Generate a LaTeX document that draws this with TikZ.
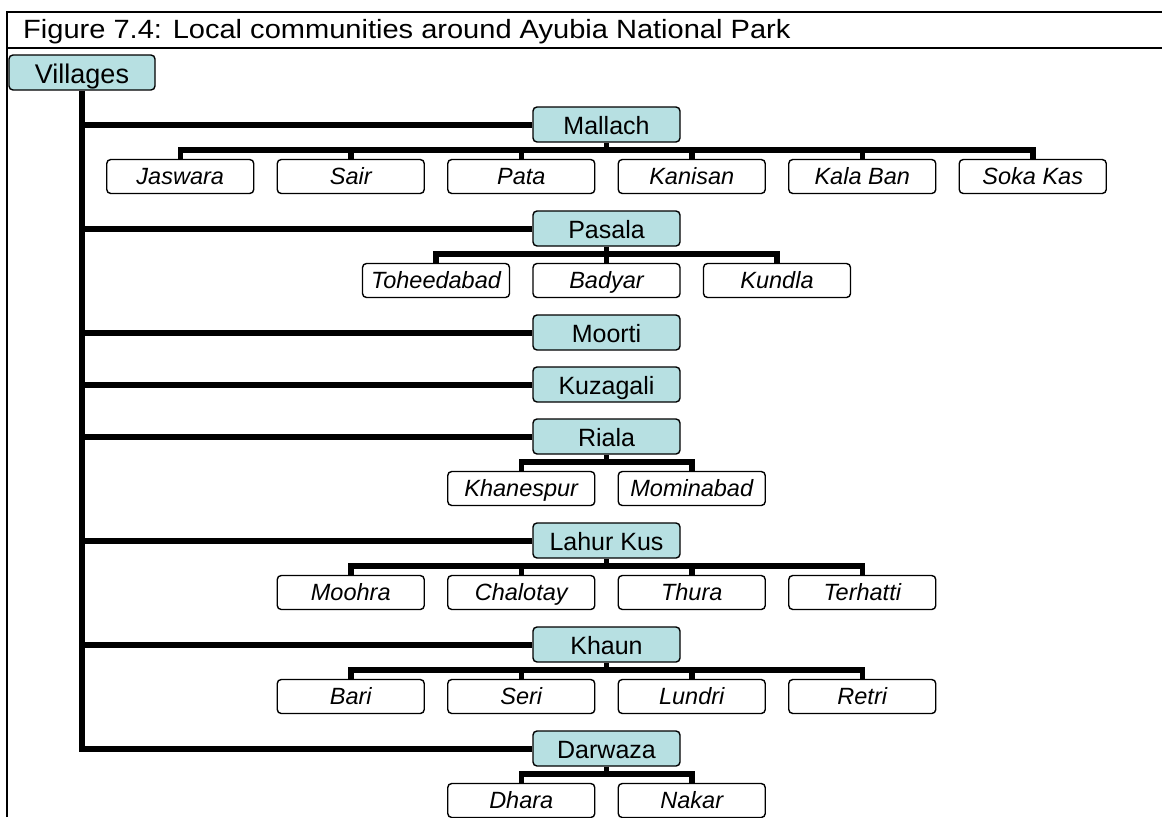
\documentclass[tikz,border=0pt]{standalone}
\usepackage{fontspec}
\setmainfont{Liberation Sans}
\newfontfamily\captionfont[FakeStretch=1.1]{Liberation Sans}
\usetikzlibrary{calc}
\definecolor{villfill}{RGB}{183,224,226}
\begin{document}
\begin{tikzpicture}[x=1pt,y=-1pt,
  frame/.style={line width=1.6pt},
  vbox/.style={draw, line width=1.4pt, rounded corners=4pt, fill=villfill,
    minimum width=147pt, minimum height=35pt, inner sep=0pt,
    text height=19pt, text depth=0pt, font=\fontsize{25}{25}\selectfont},
  cbox/.style={draw, line width=1.4pt, rounded corners=4pt, fill=white,
    minimum width=147pt, minimum height=34pt, inner sep=0pt,
    text height=16.5pt, text depth=0pt, font=\fontsize{23.5}{23.5}\selectfont\itshape},
  trunk/.style={line width=6pt, line join=miter},
  bus/.style={line width=5.5pt, line join=miter}]
\useasboundingbox (0,0) rectangle (1162,817);

% frame and caption
\draw[frame] (7,817) -- (7,12) -- (1162,12);
\draw[frame] (7,48) -- (1162,48);
\node[anchor=base west, inner sep=0pt, font=\captionfont\fontsize{26.4}{26.4}\selectfont] (title) at (23,38.5)
  {Figure 7.4: Local communities around Ayubia National Park};

% root
\node[vbox, minimum width=146pt, text height=21pt, font=\fontsize{27}{27}\selectfont] (vil) at (82,72.5) {Villages};

% village groups
\node[vbox] (mal) at (606.5,124.5) {Mallach};
\node[vbox] (pas) at (606.5,228.5) {Pasala};
\node[vbox] (moo) at (606.5,332.5) {Moorti};
\node[vbox] (kuz) at (606.5,384.5) {Kuzagali};
\node[vbox] (ria) at (606.5,436.5) {Riala};
\node[vbox] (lah) at (606.5,540.5) {Lahur Kus};
\node[vbox] (kha) at (606.5,644.5) {Khaun};
\node[vbox] (dar) at (606.5,748.5) {Darwaza};

% Mallach
\node[cbox] (m1) at (180.25,176.5) {Jaswara};
\node[cbox] (m2) at (350.75,176.5) {Sair};
\node[cbox] (m3) at (521.25,176.5) {Pata};
\node[cbox] (m4) at (691.75,176.5) {Kanisan};
\node[cbox] (m5) at (862.25,176.5) {Kala Ban};
\node[cbox] (m6) at (1032.75,176.5) {Soka Kas};
% Pasala
\node[cbox] (p1) at (436,280.5) {Toheedabad};
\node[cbox] (p2) at (606.5,280.5) {Badyar};
\node[cbox] (p3) at (777,280.5) {Kundla};
% Riala
\node[cbox] (r1) at (521.25,488.5) {Khanespur};
\node[cbox] (r2) at (691.75,488.5) {Mominabad};
% Lahur Kus
\node[cbox] (l1) at (350.75,592.5) {Moohra};
\node[cbox] (l2) at (521.25,592.5) {Chalotay};
\node[cbox] (l3) at (691.75,592.5) {Thura};
\node[cbox] (l4) at (862.25,592.5) {Terhatti};
% Khaun
\node[cbox] (k1) at (350.75,696.5) {Bari};
\node[cbox] (k2) at (521.25,696.5) {Seri};
\node[cbox] (k3) at (691.75,696.5) {Lundri};
\node[cbox] (k4) at (862.25,696.5) {Retri};
% Darwaza
\node[cbox] (d1) at (521.25,800.5) {Dhara};
\node[cbox] (d2) at (691.75,800.5) {Nakar};

% trunk and branches
\draw[trunk] (vil.south) |- (dar.west);
\foreach \p in {mal,pas,moo,kuz,ria,lah,kha}
  \draw[trunk] (vil.south |- \p.west) -- (\p.west);

% child buses
\foreach \p/\first/\last in {mal/m1/m6, pas/p1/p3, ria/r1/r2, lah/l1/l4, kha/k1/k4, dar/d1/d2} {
  \coordinate (\p bus) at ($(\p.center)+(0,25.5)$);
  \draw[bus] (\p.south) -- (\p bus);
  \draw[bus] (\first.north) |- (\p bus) -| (\last.north);
}
\foreach \c/\p in {m2/mal,m3/mal,m4/mal,m5/mal,p2/pas,l2/lah,l3/lah,k2/kha,k3/kha}
  \draw[bus] (\c.north) -- (\c.north |- \p bus);
\end{tikzpicture}
\end{document}
